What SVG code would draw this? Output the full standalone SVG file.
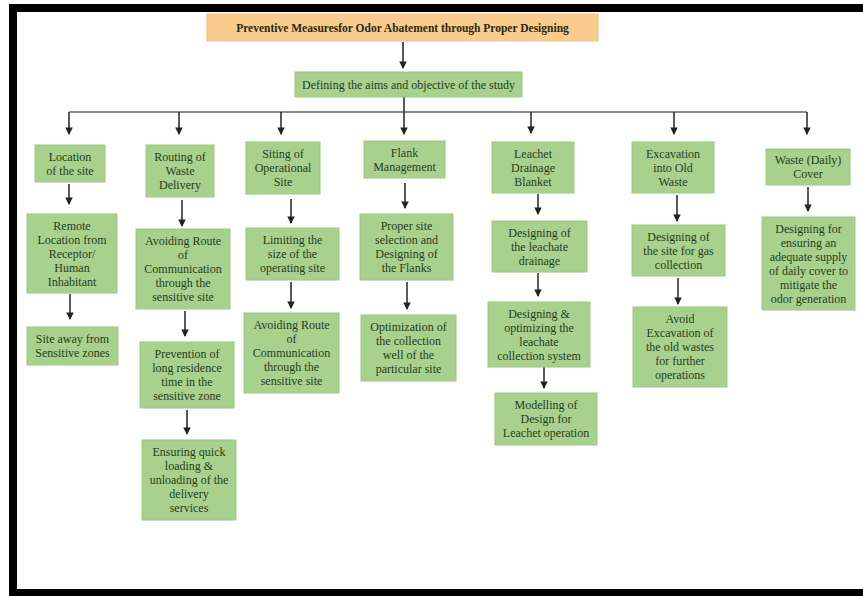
<svg xmlns="http://www.w3.org/2000/svg" width="863" height="596" viewBox="0 0 863 596">
<style>
.box{fill:#A9D18E;stroke:#9CC682;stroke-width:1}
.title{fill:#F9CB8C;stroke:#F3C07E;stroke-width:1}
text{font-family:"Liberation Serif","Times New Roman",serif;font-size:12px;fill:#1F3F1A;text-anchor:middle}
.tt{font-weight:bold;font-size:11.5px;fill:#2a2a10}
.bus{fill:none;stroke:#8C8C8C;stroke-width:2}
.arr{fill:none;stroke:#222;stroke-width:1.5;marker-end:url(#ah)}
</style>
<defs>
<marker id="ah" viewBox="0 0 8 8" refX="7" refY="4" markerWidth="5" markerHeight="5" orient="auto" markerUnits="strokeWidth">
<path d="M0,0 L8,4 L0,8 z" fill="#222"/>
</marker>
</defs>
<rect x="0" y="0" width="863" height="596" fill="#fff"/>
<rect x="13" y="8" width="880" height="585" fill="none" stroke="#000" stroke-width="8"/>

<g id="connectors">
<path class="bus" d="M69,112 H807"/>
<path class="arr" d="M403,42 V68"/>
<path class="arr" d="M404,97 V134"/>
<path class="arr" d="M69,112 V134"/>
<path class="arr" d="M179,112 V134"/>
<path class="arr" d="M281,112 V134"/>
<path class="arr" d="M531,112 V133"/>
<path class="arr" d="M674,112 V134"/>
<path class="arr" d="M807,112 V134"/>
<path class="arr" d="M69,184 V204"/>
<path class="arr" d="M70,294 V319"/>
<path class="arr" d="M182,200 V226"/>
<path class="arr" d="M185,311 V336"/>
<path class="arr" d="M187,410 V434"/>
<path class="arr" d="M291,199 V223"/>
<path class="arr" d="M291,282 V308"/>
<path class="arr" d="M405,183 V208"/>
<path class="arr" d="M407,282 V309"/>
<path class="arr" d="M538,194 V214"/>
<path class="arr" d="M538,273 V296"/>
<path class="arr" d="M544,367 V388"/>
<path class="arr" d="M677,195 V221"/>
<path class="arr" d="M678,278 V304"/>
<path class="arr" d="M808,187 V211"/>
</g>

<g id="n-title"><rect class="title" x="207" y="14" width="391" height="27"/><text class="tt" x="402.5" y="31.5">Preventive Measuresfor Odor Abatement through Proper Designing</text></g>
<g id="n-defining"><rect class="box" x="295" y="72" width="227" height="25"/><text x="408.5" y="88.5">Defining the aims and objective of the study</text></g>

<g id="n-location"><rect class="box" x="35" y="145" width="70" height="37"/><text x="70" y="160.5">Location</text><text x="70" y="174.5">of the site</text></g>
<g id="n-routing"><rect class="box" x="146" y="145" width="68" height="52"/><text x="180" y="161">Routing of</text><text x="180" y="175">Waste</text><text x="180" y="189">Delivery</text></g>
<g id="n-siting"><rect class="box" x="246" y="142" width="74" height="52"/><text x="283" y="158">Siting of</text><text x="283" y="172">Operational</text><text x="283" y="186">Site</text></g>
<g id="n-flank"><rect class="box" x="364" y="141" width="81" height="37"/><text x="404.5" y="156.5">Flank</text><text x="404.5" y="170.5">Management</text></g>
<g id="n-leachet"><rect class="box" x="492" y="142" width="82" height="51"/><text x="533" y="157.5">Leachet</text><text x="533" y="171.5">Drainage</text><text x="533" y="185.5">Blanket</text></g>
<g id="n-excavation"><rect class="box" x="632" y="142" width="82" height="51"/><text x="673" y="157.5">Excavation</text><text x="673" y="171.5">into Old</text><text x="673" y="185.5">Waste</text></g>
<g id="n-cover"><rect class="box" x="766" y="149" width="84" height="36"/><text x="808" y="164">Waste (Daily)</text><text x="808" y="178">Cover</text></g>

<g id="n-remote"><rect class="box" x="27" y="214" width="90" height="79"/><text x="72" y="229.5">Remote</text><text x="72" y="243.5">Location from</text><text x="72" y="257.5">Receptor/</text><text x="72" y="271.5">Human</text><text x="72" y="285.5">Inhabitant</text></g>
<g id="n-siteaway"><rect class="box" x="27" y="327" width="91" height="38"/><text x="72.5" y="343">Site away from</text><text x="72.5" y="357">Sensitive zones</text></g>

<g id="n-avoiding1"><rect class="box" x="136" y="229" width="94" height="80"/><text x="183" y="245">Avoiding Route</text><text x="183" y="259">of</text><text x="183" y="273">Communication</text><text x="183" y="287">through the</text><text x="183" y="301">sensitive site</text></g>
<g id="n-prevention"><rect class="box" x="140" y="342" width="94" height="66"/><text x="187" y="358">Prevention of</text><text x="187" y="372">long residence</text><text x="187" y="386">time in the</text><text x="187" y="400">sensitive zone</text></g>
<g id="n-ensuring"><rect class="box" x="142" y="440" width="94" height="80"/><text x="189" y="456">Ensuring quick</text><text x="189" y="470">loading &amp;</text><text x="189" y="484">unloading of the</text><text x="189" y="498">delivery</text><text x="189" y="512">services</text></g>

<g id="n-limiting"><rect class="box" x="246" y="228" width="93" height="52"/><text x="292.5" y="244">Limiting the</text><text x="292.5" y="258">size of the</text><text x="292.5" y="272">operating site</text></g>
<g id="n-avoiding2"><rect class="box" x="244" y="313" width="95" height="80"/><text x="291.5" y="329">Avoiding Route</text><text x="291.5" y="343">of</text><text x="291.5" y="357">Communication</text><text x="291.5" y="371">through the</text><text x="291.5" y="385">sensitive site</text></g>

<g id="n-proper"><rect class="box" x="360" y="214" width="93" height="66"/><text x="406.5" y="230">Proper site</text><text x="406.5" y="244">selection and</text><text x="406.5" y="258">Designing of</text><text x="406.5" y="272">the Flanks</text></g>
<g id="n-optimization"><rect class="box" x="361" y="315" width="95" height="66"/><text x="408.5" y="331">Optimization of</text><text x="408.5" y="345">the collection</text><text x="408.5" y="359">well of the</text><text x="408.5" y="373">particular site</text></g>

<g id="n-drainage"><rect class="box" x="492" y="221" width="95" height="51"/><text x="539.5" y="236.5">Designing of</text><text x="539.5" y="250.5">the leachate</text><text x="539.5" y="264.5">drainage</text></g>
<g id="n-optimizing"><rect class="box" x="488" y="302" width="102" height="65"/><text x="539" y="317.5">Designing &amp;</text><text x="539" y="331.5">optimizing the</text><text x="539" y="345.5">leachate</text><text x="539" y="359.5">collection system</text></g>
<g id="n-modelling"><rect class="box" x="495" y="393" width="102" height="52"/><text x="546" y="409">Modelling of</text><text x="546" y="423">Design for</text><text x="546" y="437">Leachet operation</text></g>

<g id="n-gas"><rect class="box" x="632" y="225" width="93" height="51"/><text x="678.5" y="240.5">Designing of</text><text x="678.5" y="254.5">the site for gas</text><text x="678.5" y="268.5">collection</text></g>
<g id="n-avoid"><rect class="box" x="633" y="307" width="94" height="80"/><text x="680" y="323">Avoid</text><text x="680" y="337">Excavation of</text><text x="680" y="351">the old wastes</text><text x="680" y="365">for further</text><text x="680" y="379">operations</text></g>

<g id="n-dailycover"><rect class="box" x="762" y="217" width="93" height="93"/><text x="808.5" y="232.5">Designing for</text><text x="808.5" y="246.5">ensuring an</text><text x="808.5" y="260.5">adequate supply</text><text x="808.5" y="274.5">of daily cover to</text><text x="808.5" y="288.5">mitigate the</text><text x="808.5" y="302.5">odor generation</text></g>
</svg>
